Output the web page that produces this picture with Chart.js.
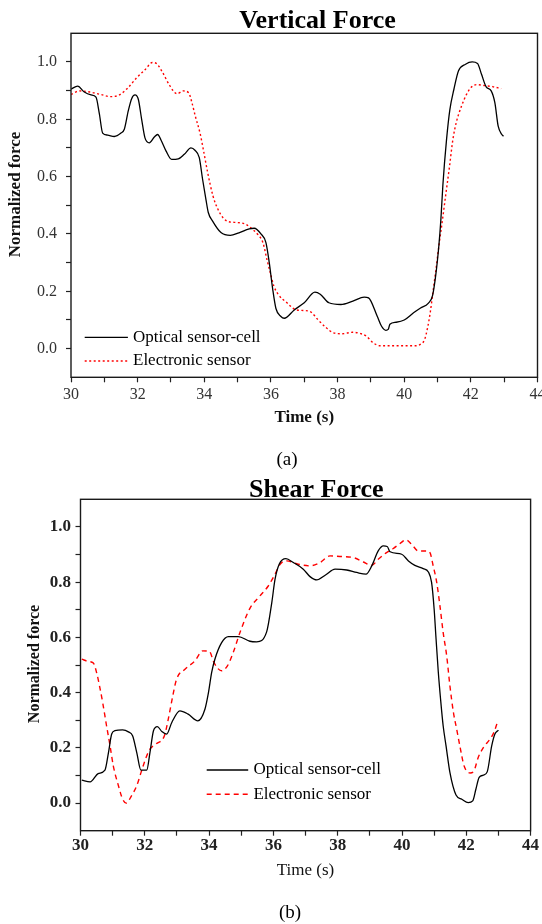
<!DOCTYPE html>
<html>
<head>
<meta charset="utf-8">
<script src="https://cdn.jsdelivr.net/npm/chart.js@4.4.1/dist/chart.umd.min.js"></script>
<style>
html,body{margin:0;padding:0;background:#fff;}
#wrap{position:relative;width:542px;height:924px;overflow:hidden;background:#fff;}
canvas{position:absolute;left:0;}
</style>
</head>
<body>
<div id="wrap">
<canvas id="c1" width="542" height="470" style="top:0px"></canvas>
<canvas id="c2" width="542" height="454" style="top:470px"></canvas>
</div>
<script>
// ---------- DATA ----------
const seriesNames = ['Optical sensor-cell', 'Electronic sensor'];
const titleA = 'Vertical Force';
const titleB = 'Shear Force';
const captionA = '(a)';
const captionB = '(b)';
const xAxisTitle = 'Time (s)';
const yAxisTitle = 'Normalized force';
const timeMin = 30, timeMax = 44;
const forceMin = -0.1, forceMax = 1.1;

// Vertical force – optical sensor-cell
const vertOptT = [30.0,30.2,30.4,30.6,30.75,30.85,30.95,31.1,31.3,31.5,31.6,31.72,31.82,31.92,32.02,32.12,32.22,32.35,32.5,32.6,32.7,32.85,33.02,33.22,33.4,33.6,33.72,33.85,33.95,34.05,34.12,34.25,34.5,34.78,35.04,35.35,35.5,35.7,35.85,35.95,36.05,36.15,36.3,36.4,36.7,37.0,37.32,37.48,37.74,38.1,38.46,38.8,38.93,39.19,39.32,39.45,39.52,39.57,39.76,40.0,40.28,40.49,40.72,40.85,40.95,41.04,41.1,41.16,41.27,41.37,41.49,41.63,41.84,42.04,42.2,42.32,42.46,42.61,42.72,42.82,42.93,42.98];
const vertOptF = [0.905,0.916,0.895,0.885,0.877,0.82,0.752,0.745,0.74,0.752,0.765,0.83,0.872,0.885,0.87,0.80,0.735,0.718,0.738,0.747,0.728,0.69,0.66,0.662,0.678,0.70,0.692,0.666,0.59,0.52,0.475,0.445,0.405,0.395,0.404,0.418,0.42,0.40,0.37,0.30,0.21,0.14,0.112,0.106,0.135,0.16,0.197,0.19,0.16,0.154,0.166,0.18,0.177,0.113,0.078,0.064,0.067,0.085,0.092,0.10,0.125,0.142,0.158,0.185,0.26,0.36,0.45,0.57,0.729,0.834,0.904,0.969,0.992,1.0,0.995,0.957,0.913,0.899,0.858,0.776,0.747,0.741];

// Vertical force – electronic sensor
const vertEleT = [30.0,30.26,30.57,30.88,31.19,31.45,31.71,31.97,32.23,32.44,32.56,32.75,32.96,33.18,33.37,33.53,33.63,33.73,33.87,33.99,34.10,34.26,34.41,34.56,34.72,34.98,35.24,35.39,35.60,35.76,35.88,35.98,36.09,36.22,36.48,36.74,37.0,37.21,37.41,37.67,37.88,38.14,38.45,38.71,38.87,39.07,39.28,39.8,40.32,40.47,40.61,40.71,40.78,40.86,40.94,41.04,41.15,41.25,41.36,41.46,41.56,41.72,41.87,42.03,42.18,42.39,42.65,42.91];
const vertEleF = [0.887,0.899,0.895,0.887,0.879,0.885,0.91,0.945,0.974,0.998,0.995,0.963,0.918,0.889,0.899,0.893,0.858,0.811,0.753,0.683,0.615,0.533,0.486,0.457,0.443,0.44,0.434,0.422,0.399,0.37,0.311,0.265,0.218,0.189,0.16,0.136,0.133,0.127,0.101,0.072,0.055,0.052,0.057,0.052,0.043,0.02,0.01,0.01,0.01,0.014,0.031,0.078,0.125,0.195,0.265,0.358,0.451,0.54,0.636,0.729,0.788,0.846,0.887,0.914,0.921,0.918,0.914,0.907];

// Shear force – optical sensor-cell
const shearOptT = [30.04,30.30,30.55,30.76,30.87,30.97,31.07,31.31,31.49,31.62,31.75,31.88,32.06,32.16,32.27,32.39,32.53,32.68,32.84,33.09,33.35,33.65,33.87,33.98,34.08,34.18,34.39,34.60,34.91,35.27,35.48,35.79,35.95,36.05,36.18,36.39,36.62,36.93,37.14,37.35,37.61,37.92,38.28,38.59,38.88,39.06,39.26,39.42,39.54,39.63,39.99,40.20,40.40,40.66,40.82,40.92,41.0,41.06,41.13,41.20,41.28,41.37,41.49,41.68,41.86,42.06,42.20,42.30,42.40,42.53,42.65,42.79,42.89,43.0];
const shearOptF = [0.083,0.077,0.107,0.119,0.183,0.25,0.262,0.265,0.258,0.244,0.183,0.119,0.119,0.183,0.262,0.277,0.259,0.25,0.292,0.334,0.322,0.298,0.34,0.40,0.473,0.521,0.581,0.603,0.603,0.586,0.584,0.62,0.726,0.81,0.865,0.885,0.871,0.847,0.82,0.808,0.825,0.847,0.844,0.835,0.829,0.859,0.913,0.931,0.929,0.91,0.901,0.877,0.861,0.849,0.837,0.799,0.702,0.593,0.473,0.376,0.28,0.207,0.111,0.029,0.014,0.002,0.008,0.051,0.093,0.101,0.113,0.207,0.25,0.264];

// Shear force – electronic sensor
const shearEleT = [30.04,30.24,30.40,30.50,30.59,30.69,30.81,30.92,31.02,31.18,31.31,31.42,31.59,31.75,31.90,32.04,32.16,32.35,32.61,32.73,32.87,32.99,33.25,33.56,33.80,34.01,34.15,34.39,34.57,34.75,34.96,35.27,35.58,35.84,36.05,36.21,36.41,36.77,37.14,37.45,37.76,38.07,38.49,38.80,39.06,39.26,39.52,39.73,39.94,40.12,40.30,40.51,40.77,40.87,40.97,41.08,41.18,41.28,41.39,41.49,41.60,41.70,41.80,41.93,42.12,42.24,42.37,42.53,42.74,42.86,42.96];
const shearEleF = [0.521,0.513,0.507,0.473,0.425,0.364,0.28,0.207,0.135,0.063,0.014,0.0,0.027,0.063,0.117,0.165,0.195,0.214,0.244,0.304,0.388,0.449,0.485,0.515,0.551,0.549,0.509,0.479,0.497,0.545,0.618,0.705,0.75,0.786,0.829,0.865,0.877,0.865,0.859,0.871,0.895,0.893,0.889,0.873,0.861,0.883,0.907,0.922,0.94,0.953,0.937,0.913,0.913,0.907,0.859,0.799,0.714,0.618,0.533,0.425,0.328,0.268,0.207,0.135,0.109,0.117,0.165,0.201,0.232,0.256,0.29];

// ---------- HELPERS ----------
const pts = (xs, ys) => xs.map((x, i) => ({x: x, y: ys[i]}));
const SERIF = "'Liberation Serif', 'Times New Roman', serif";
Chart.defaults.font.family = SERIF;
Chart.defaults.color = '#222';

function makeDecor(c) {
  return {
    id: 'decor',
    afterDraw(chart) {
      const ctx = chart.ctx, a = chart.chartArea;
      ctx.save();
      ctx.setLineDash([]);
      ctx.strokeStyle = '#1a1a1a';
      ctx.lineWidth = 1.4;
      ctx.strokeRect(a.left, a.top, a.right - a.left, a.bottom - a.top);
      ctx.fillStyle = '#000';
      // chart title
      ctx.font = c.titleFont;
      ctx.textAlign = 'center';
      ctx.textBaseline = 'alphabetic';
      ctx.fillText(c.title, c.titleX, c.titleY);
      // y title
      ctx.save();
      ctx.translate(c.yTitleX, c.yTitleY);
      ctx.rotate(-Math.PI / 2);
      ctx.font = c.yTitleFont;
      ctx.textAlign = 'center';
      ctx.textBaseline = 'middle';
      ctx.fillStyle = '#111';
      ctx.fillText(yAxisTitle, 0, 0);
      ctx.restore();
      // legend
      chart.data.datasets.forEach((ds, i) => {
        const y = c.legendY[i];
        ctx.beginPath();
        ctx.setLineDash(ds.borderDash || []);
        ctx.strokeStyle = ds.borderColor;
        ctx.lineWidth = ds.borderWidth;
        ctx.moveTo(c.legendX0, y);
        ctx.lineTo(c.legendX1, y);
        ctx.stroke();
        ctx.setLineDash([]);
        ctx.font = c.legendFont;
        ctx.textAlign = 'left';
        ctx.textBaseline = 'middle';
        ctx.fillStyle = '#000';
        ctx.fillText(ds.label, c.legendTextX, y);
      });
      // caption
      ctx.font = c.captionFont;
      ctx.textAlign = 'center';
      ctx.textBaseline = 'alphabetic';
      ctx.fillStyle = '#000';
      ctx.fillText(c.caption, c.captionX, c.captionY);
      ctx.restore();
    }
  };
}

function edgeTick(ctx, col) {
  const v = ctx.tick ? ctx.tick.value : 0;
  if (Math.abs(v - forceMin) < 1e-6 || Math.abs(v - forceMax) < 1e-6) return 'rgba(0,0,0,0)';
  return col;
}

function buildChart(id, c) {
  return new Chart(document.getElementById(id), {
    type: 'line',
    data: {
      datasets: [
        {label: seriesNames[0], data: c.opt, borderColor: '#000', borderWidth: 1.3, pointRadius: 0, fill: false, cubicInterpolationMode: 'monotone'},
        {label: seriesNames[1], data: c.ele, borderColor: '#ff0000', borderWidth: 1.4, borderDash: c.dash, pointRadius: 0, fill: false, cubicInterpolationMode: 'monotone'}
      ]
    },
    options: {
      responsive: false,
      animation: false,
      devicePixelRatio: 1,
      layout: {padding: {left: 0, right: c.padRight, top: c.padTop, bottom: c.padBottom}},
      plugins: {legend: {display: false}, title: {display: false}, tooltip: {enabled: false}},
      scales: {
        x: {
          type: 'linear', min: timeMin, max: timeMax,
          border: {display: false},
          grid: {drawOnChartArea: false, drawTicks: true, tickLength: 5, color: '#222', tickColor: '#222', tickWidth: 1.2},
          ticks: {
            stepSize: 1, maxTicksLimit: 100, autoSkip: false, maxRotation: 0, padding: c.xTickPad,
            font: c.tickFont, color: c.tickColor,
            callback: v => (Math.round(v) % 2 === 0 ? String(Math.round(v)) : '')
          },
          title: {display: true, text: xAxisTitle, font: c.xTitleFont, color: '#111', padding: {top: 0, bottom: 0}},
          afterFit: s => { s.height = c.xHeight; s.paddingLeft = 0; s.paddingRight = 0; }
        },
        y: {
          type: 'linear', min: forceMin, max: forceMax,
          border: {display: false},
          grid: {drawOnChartArea: false, drawTicks: true, tickLength: 5, color: '#222', tickColor: ctx => edgeTick(ctx, '#222'), tickWidth: 1.2},
          ticks: {
            stepSize: 0.1, maxTicksLimit: 100, autoSkip: false, padding: c.yTickPad,
            font: c.tickFont, color: c.tickColor,
            callback: v => { const k = Math.round(v * 10); return (k < 0 || k > 10 || k % 2) ? '' : (k / 10).toFixed(1); }
          },
          afterFit: s => { s.width = c.yWidth; s.paddingTop = 0; s.paddingBottom = 0; }
        }
      }
    },
    plugins: [makeDecor(c)]
  });
}

buildChart('c1', {
  opt: pts(vertOptT, vertOptF), ele: pts(vertEleT, vertEleF), dash: [2, 2.5],
  padRight: 4.5, padTop: 33.3, padBottom: 42.2, xHeight: 50.5, yWidth: 71,
  xTickPad: 3, yTickPad: 9,
  tickFont: {family: SERIF, size: 16}, tickColor: '#333',
  xTitleFont: {family: SERIF, size: 17, weight: 'bold'},
  title: titleA, titleFont: "bold 26px " + SERIF, titleX: 317.5, titleY: 28.3,
  yTitleX: 15.3, yTitleY: 194.5, yTitleFont: "bold 17px " + SERIF,
  legendY: [337.3, 361], legendX0: 84.7, legendX1: 127.9, legendTextX: 133, legendFont: "17px " + SERIF,
  caption: captionA, captionFont: "19px " + SERIF, captionX: 287, captionY: 465
});

buildChart('c2', {
  opt: pts(shearOptT, shearOptF), ele: pts(shearEleT, shearEleF), dash: [5, 4],
  padRight: 11.4, padTop: 29.3, padBottom: 42.9, xHeight: 50.4, yWidth: 80.5,
  xTickPad: 0, yTickPad: 4.5,
  tickFont: {family: SERIF, size: 17, weight: 'bold'}, tickColor: '#222',
  xTitleFont: {family: SERIF, size: 17},
  title: titleB, titleFont: "bold 26px " + SERIF, titleX: 316.3, titleY: 26.7,
  yTitleX: 34.6, yTitleY: 194, yTitleFont: "bold 16px " + SERIF,
  legendY: [300, 324.3], legendX0: 206.7, legendX1: 248.2, legendTextX: 253.4, legendFont: "17px " + SERIF,
  caption: captionB, captionFont: "19px " + SERIF, captionX: 290, captionY: 448.3
});
</script>
</body>
</html>
